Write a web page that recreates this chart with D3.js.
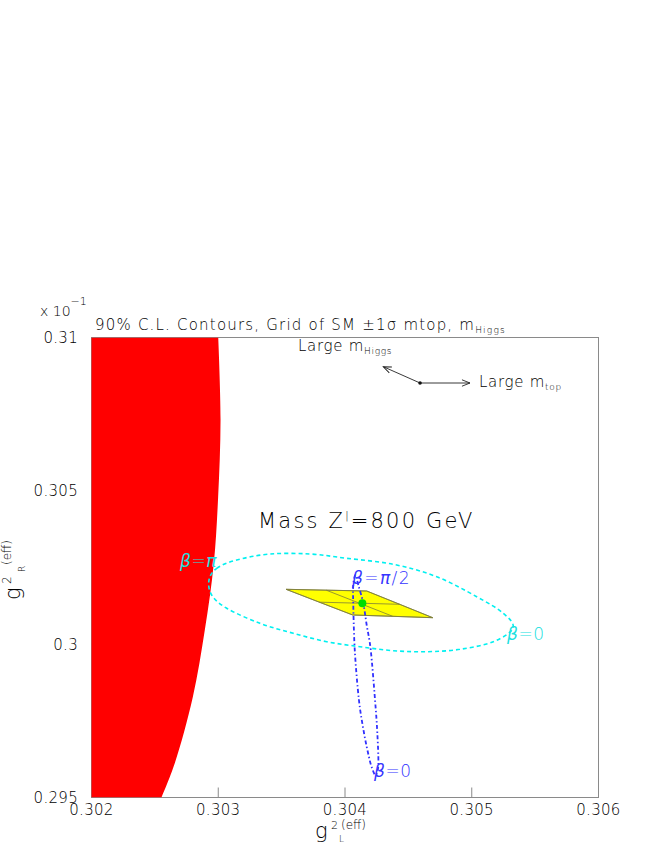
<!DOCTYPE html>
<html>
<head>
<meta charset="utf-8">
<script src="https://cdn.jsdelivr.net/npm/d3@7"></script>
<style>
  html, body { margin: 0; padding: 0; background: #fff; }
  svg { display: block; }
  text { font-family: "DejaVu Sans", "Liberation Sans", sans-serif; font-weight: 200; fill: #000; }
</style>
</head>
<body>
<svg id="chart" width="654" height="846"></svg>
<script>
// ---------- data ----------
const xDomain = [0.302, 0.306];
const yDomain = [0.295, 0.31];          // axis shown as "x 10^-1"
const xTicks = [0.302, 0.303, 0.304, 0.305, 0.306];
const xTickLabels = ["0.302", "0.303", "0.304", "0.305", "0.306"];
const yTicks = [0.295, 0.3, 0.305, 0.31];
const yTickLabels = ["0.295", "0.3", "0.305", "0.31"];

// right boundary of the excluded (red) region, [gL, gR]
const redBoundary = [
  [0.302552, 0.2950], [0.302657, 0.29612], [0.302799, 0.29827], [0.302894, 0.30046],
  [0.302965, 0.30264], [0.302999, 0.30479], [0.303018, 0.30730], [0.303000, 0.3100]
];

// cyan 90% C.L. contour (beta scan, Z' 800 GeV)
const cyanContour = [
  [0.302927, 0.302092], [0.302988, 0.302474], [0.303146, 0.302745], [0.303408, 0.302940],
  [0.303724, 0.302940], [0.304013, 0.302800], [0.304381, 0.302604], [0.304723, 0.302200],
  [0.305039, 0.301548], [0.305249, 0.301007], [0.305325, 0.300527], [0.305170, 0.300080],
  [0.304907, 0.299833], [0.304645, 0.299754], [0.304381, 0.299787], [0.304118, 0.299917],
  [0.303856, 0.300080], [0.303592, 0.300354], [0.303329, 0.300680], [0.303067, 0.301170],
  [0.302948, 0.301603]
];

// blue contour (second beta scan)
const blueContour = [
  [0.304083, 0.302256], [0.304065, 0.301929], [0.304065, 0.301342], [0.304077, 0.299810],
  [0.304110, 0.298180], [0.304150, 0.297103], [0.304189, 0.296321], [0.304213, 0.295962],
  [0.304241, 0.295734], [0.304263, 0.296060], [0.304255, 0.297103], [0.304237, 0.298180],
  [0.304203, 0.299810], [0.304171, 0.300625], [0.304144, 0.301342], [0.304105, 0.301929]
];

// SM grid: rows = mHiggs (low, mid, high), columns = mtop (-1σ, 0, +1σ)
const smGrid = [
  [[0.304061, 0.300951], [0.304376, 0.300909], [0.304692, 0.300863]],
  [[0.303797, 0.301369], [0.304114, 0.301336], [0.304432, 0.301300]],
  [[0.303535, 0.301789], [0.303852, 0.301760], [0.304171, 0.301734]]
];
const smPoint = [0.304137, 0.301333];

// direction arrows
const arrowOrigin = [0.304592, 0.308516];
const arrowHiggsEnd = [0.304302, 0.309048];
const arrowTopEnd = [0.304986, 0.308516];

// ---------- layout ----------
const svg = d3.select("#chart");
const L = 91.5, R = 598.5, T = 337.5, B = 797.5;
const x = d3.scaleLinear().domain(xDomain).range([L, R]);
const y = d3.scaleLinear().domain(yDomain).range([B, T]);

svg.append("rect").attr("width", 654).attr("height", 846).attr("fill", "#fff");

svg.append("defs").append("clipPath").attr("id", "plotclip")
  .append("rect").attr("x", L).attr("y", T).attr("width", R - L).attr("height", B - T);

svg.select("defs").append("marker")
  .attr("id", "openarrow").attr("markerUnits", "userSpaceOnUse")
  .attr("markerWidth", 12).attr("markerHeight", 12)
  .attr("refX", 0).attr("refY", 0).attr("viewBox", "-10 -6 12 12")
  .attr("orient", "auto")
  .append("path").attr("d", "M-8,-3.2 L0,0 L-8,3.2")
  .attr("fill", "none").attr("stroke", "#222").attr("stroke-width", 0.9);

// frame
svg.append("rect").attr("x", L).attr("y", T).attr("width", R - L).attr("height", B - T)
  .attr("fill", "none").attr("stroke", "#8a8a8a").attr("stroke-width", 1);

// x ticks (inside, pointing up)
svg.append("g").selectAll("line").data(xTicks).join("line")
  .attr("x1", d => x(d)).attr("x2", d => x(d))
  .attr("y1", B).attr("y2", B - 10)
  .attr("stroke", "#8a8a8a").attr("stroke-width", 1);
// y ticks (inside, pointing right)
svg.append("g").selectAll("line").data(yTicks).join("line")
  .attr("x1", L).attr("x2", L + 10)
  .attr("y1", d => y(d)).attr("y2", d => y(d))
  .attr("stroke", "#8a8a8a").attr("stroke-width", 1);

// tick labels
svg.append("g").selectAll("text").data(xTicks).join("text")
  .attr("x", d => x(d)).attr("y", B + 17)
  .attr("text-anchor", "middle").attr("font-size", 15).attr("letter-spacing", 0.3)
  .text((d, i) => xTickLabels[i]);
svg.append("g").selectAll("text").data(yTicks).join("text")
  .attr("x", 78).attr("y", d => y(d) + 5.5)
  .attr("text-anchor", "end").attr("font-size", 15).attr("letter-spacing", 0.3)
  .text((d, i) => yTickLabels[i]);

const plot = svg.append("g").attr("clip-path", "url(#plotclip)");

// red excluded region
const redArea = d3.area()
  .y(d => y(d[1]))
  .x0(x(xDomain[0]) - 5)
  .x1(d => x(d[0]))
  .curve(d3.curveCatmullRom);
plot.append("path").datum(redBoundary).attr("d", redArea).attr("fill", "#ff0000");

// cyan contour
plot.append("path").datum(cyanContour)
  .attr("d", d3.line().x(d => x(d[0])).y(d => y(d[1])).curve(d3.curveCardinalClosed))
  .attr("fill", "none").attr("stroke", "#00f0f0").attr("stroke-width", 1.6)
  .attr("stroke-dasharray", "4,3");

// yellow SM grid
const corners = [smGrid[0][0], smGrid[0][2], smGrid[2][2], smGrid[2][0]];
plot.append("polygon")
  .attr("points", corners.map(p => [x(p[0]), y(p[1])].join(",")).join(" "))
  .attr("fill", "#ffff00").attr("stroke", "#7d7d3a").attr("stroke-width", 0.8);
const gridLine = d3.line().x(d => x(d[0])).y(d => y(d[1]));
smGrid.forEach(row => {
  plot.append("path").attr("d", gridLine(row)).attr("fill", "none")
    .attr("stroke", "#7d7d3a").attr("stroke-width", 0.8);
});
[0, 1, 2].forEach(c => {
  plot.append("path").attr("d", gridLine(smGrid.map(r => r[c]))).attr("fill", "none")
    .attr("stroke", "#7d7d3a").attr("stroke-width", 0.8);
});

// blue contour
plot.append("path").datum(blueContour)
  .attr("d", d3.line().x(d => x(d[0])).y(d => y(d[1])).curve(d3.curveCardinalClosed))
  .attr("fill", "none").attr("stroke", "#3030ff").attr("stroke-width", 1.8)
  .attr("stroke-dasharray", "4,2.5,1.4,2.5");

// SM point
plot.append("circle").attr("cx", x(smPoint[0])).attr("cy", y(smPoint[1])).attr("r", 4)
  .attr("fill", "#00dd00");

// arrows
[arrowHiggsEnd, arrowTopEnd].forEach(e => {
  plot.append("line")
    .attr("x1", x(arrowOrigin[0])).attr("y1", y(arrowOrigin[1]))
    .attr("x2", x(e[0])).attr("y2", y(e[1]))
    .attr("stroke", "#222").attr("stroke-width", 0.9)
    .attr("marker-end", "url(#openarrow)");
});
plot.append("circle").attr("cx", x(arrowOrigin[0])).attr("cy", y(arrowOrigin[1])).attr("r", 1.8)
  .attr("fill", "#111");

// ---------- text ----------
function richText(sel, parts) {
  parts.forEach(p => {
    const t = sel.append("tspan").text(p.t);
    if (p.fs) t.attr("font-size", p.fs);
    if (p.dy) t.attr("dy", p.dy);
    if (p.it) t.attr("font-style", "italic");
    if (p.fill) t.attr("fill", p.fill);
  });
  return sel;
}

// title
richText(svg.append("text").attr("x", 95).attr("y", 330).attr("font-size", 15).attr("letter-spacing", 1.2),
  [{t: "90% C.L. Contours, Grid of SM ±1σ mtop, m"}, {t: "Higgs", fs: 9, dy: 3}]);

// exponent
richText(svg.append("text").attr("x", 40).attr("y", 316).attr("font-size", 14),
  [{t: "x 10"}, {t: "−1", fs: 11, dy: -11}]);

// annotations
richText(svg.append("text").attr("x", 298).attr("y", 351).attr("font-size", 15).attr("letter-spacing", 0.7),
  [{t: "Large m"}, {t: "Higgs", fs: 9, dy: 3}]);
richText(svg.append("text").attr("x", 479).attr("y", 387).attr("font-size", 15).attr("letter-spacing", 0.7),
  [{t: "Large m"}, {t: "top", fs: 9, dy: 3}]);
richText(svg.append("text").attr("x", 258).attr("y", 528).attr("font-size", 21).attr("letter-spacing", 2.2),
  [{t: "Mass Z"}, {t: "|", fs: 10, dy: -9}, {t: "=800 GeV", fs: 21, dy: 9}]);

// beta labels
const cyanTxt = "#20e0e0", blueTxt = "#3535ff";
richText(svg.append("text").attr("x", 180).attr("y", 567).attr("font-size", 17).attr("letter-spacing", 0.6).attr("fill", cyanTxt),
  [{t: "β", it: true, fill: cyanTxt}, {t: "=", fill: cyanTxt}, {t: "π", it: true, fill: cyanTxt}]);
richText(svg.append("text").attr("x", 507).attr("y", 640).attr("font-size", 17).attr("letter-spacing", 0.6).attr("fill", cyanTxt),
  [{t: "β", it: true, fill: cyanTxt}, {t: "=0", fill: cyanTxt}]);
richText(svg.append("text").attr("x", 352).attr("y", 584).attr("font-size", 17).attr("letter-spacing", 1.4).attr("fill", blueTxt),
  [{t: "β", it: true, fill: blueTxt}, {t: "=", fill: blueTxt}, {t: "π", it: true, fill: blueTxt}, {t: "/2", fill: blueTxt}]);
richText(svg.append("text").attr("x", 374).attr("y", 777).attr("font-size", 17).attr("letter-spacing", 0.6).attr("fill", blueTxt),
  [{t: "β", it: true, fill: blueTxt}, {t: "=0", fill: blueTxt}]);

// x axis title: g^2 (eff) _L
svg.append("text").attr("x", 315).attr("y", 838).attr("font-size", 21).text("g");
svg.append("text").attr("x", 331).attr("y", 829).attr("font-size", 11).text("2");
svg.append("text").attr("x", 341).attr("y", 829).attr("font-size", 12).attr("font-weight", 400).text("(eff)");
svg.append("text").attr("x", 339).attr("y", 842).attr("font-size", 9).text("L");

// y axis title (rotated)
const yt = svg.append("g").attr("transform", "rotate(-90)");
yt.append("text").attr("x", -600).attr("y", 20).attr("font-size", 21).text("g");
yt.append("text").attr("x", -584).attr("y", 11).attr("font-size", 12).text("2");
yt.append("text").attr("x", -572).attr("y", 25).attr("font-size", 9).text("R");
yt.append("text").attr("x", -565).attr("y", 11).attr("font-size", 12).attr("font-weight", 400).text("(eff)");
</script>
</body>
</html>
